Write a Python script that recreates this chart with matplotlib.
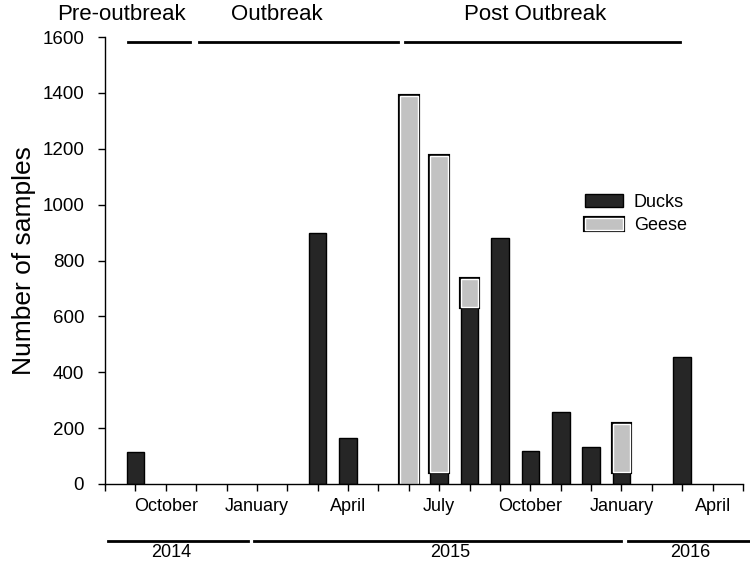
import numpy as np
import matplotlib.pyplot as plt
import matplotlib.patheffects as pe

plt.rcParams['font.family'] = ['Liberation Sans', 'DejaVu Sans']

# month index: 0 = August 2014 ... 21 = May 2016
n_months = 22
month_labels = ['', '', 'October', '', '', 'January', '', '', 'April', '', '', 'July',
                '', '', 'October', '', '', 'January', '', '', 'April', '']

# bars (month index) and sample counts
bar_month = np.array([1, 7, 8, 10, 11, 12, 13, 14, 15, 16, 17, 19])
ducks     = np.array([115, 900, 165, 0, 42, 633, 880, 118, 259, 134, 42, 455])
geese     = np.array([0, 0, 0, 1390, 1131, 99, 0, 0, 0, 0, 172, 0])

# study periods (start, end in month index) shown above the plot
periods      = ['Pre-outbreak', 'Outbreak', 'Post Outbreak']
period_start = [0.76, 3.09, 9.87]
period_end   = [2.80, 9.64, 18.93]
period_text  = [0.54, 5.65, 14.17]

# years shown under the month axis
years      = ['2014', '2015', '2016']
year_start = [0.1, 4.9, 17.2]
year_end   = [4.71, 17.0, 21.3]
year_text  = [2.17, 11.36, 19.26]

duck_color = '#262626'
goose_color = '#c2c2c2'

fig = plt.figure(figsize=(7.5, 5.62), dpi=100)
ax = fig.add_axes([105 / 750, 78 / 562, 638 / 750, 447 / 562])

width = 0.58
d = ducks > 0
ax.bar(bar_month[d], ducks[d], width, color=duck_color, edgecolor='black',
       linewidth=1, label='Ducks')
g = geese > 0
ax.bar(bar_month[g], geese[g], width, bottom=ducks[g], color=goose_color,
       edgecolor='white', linewidth=1.0, label='Geese',
       path_effects=[pe.Stroke(linewidth=3.0, foreground='black'), pe.Normal()])

ax.set_xlim(0, n_months - 1)
ax.set_ylim(0, 1600)
ax.set_xticks(range(n_months))
ax.set_xticklabels(month_labels, fontsize=13)
ax.set_yticks(range(0, 1601, 200))
ax.tick_params(axis='y', labelsize=13.5, length=5, width=1, direction='out', pad=10)
ax.tick_params(axis='x', length=5, width=1, direction='out', pad=5)
for s in ['top', 'right']:
    ax.spines[s].set_visible(False)
for s in ['left', 'bottom']:
    ax.spines[s].set_linewidth(1)

ax.set_ylabel('Number of samples', fontsize=19)
ax.yaxis.set_label_coords(-0.108, 0.5)

# period bars above the axes
for name, a, b, t in zip(periods, period_start, period_end, period_text):
    ax.plot([a, b], [1582, 1582], color='black', lw=2, clip_on=False)
    ax.text(t, 1680, name, ha='center', va='center', fontsize=16)

# year bars below the month labels
tr = ax.get_xaxis_transform()
for name, a, b, t in zip(years, year_start, year_end, year_text):
    ax.plot([a, b], [-0.1275, -0.1275], color='black', lw=2, transform=tr,
            clip_on=False)
    ax.text(t, -0.153, name, ha='center', va='center', fontsize=13,
            transform=tr)

ax.legend(loc='upper left', bbox_to_anchor=((585 - 105) / 638, (484 - 194) / 447),
          frameon=False, fontsize=13, borderpad=0, borderaxespad=0,
          handlelength=2.1, handleheight=0.7, handletextpad=0.6, labelspacing=0.35)

fig.savefig('out.png', dpi=100)
